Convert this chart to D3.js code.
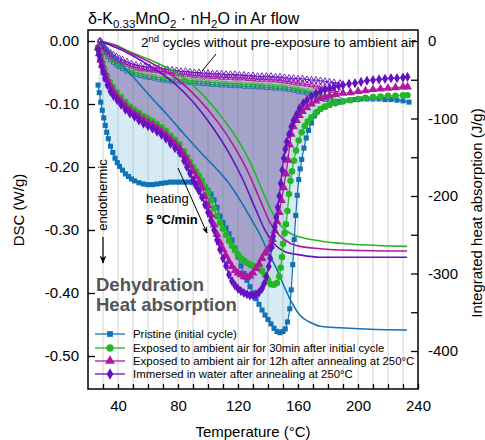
<!DOCTYPE html>
<html><head><meta charset="utf-8">
<script src="https://cdn.jsdelivr.net/npm/d3@7"></script>
<style>
body{margin:0;background:#fff}
svg{display:block}
text{font-family:"Liberation Sans",Arial,sans-serif;fill:#000}
</style>
</head><body>
<svg id="c" width="485" height="440"></svg>
<script>
// ---------------- DATA ----------------
const seriesNames = [
  "Pristine (initial cycle)",
  "Exposed to ambient air for 30min after initial cycle",
  "Exposed to ambient air for 12h after annealing at 250°C",
  "Immersed in water after annealing at 250°C"
];
const xTickLabels = [40, 80, 120, 160, 200, 240];
const yLeftTicks = [0, -0.1, -0.2, -0.3, -0.4, -0.5];
const yRightTicks = [0, -100, -200, -300, -400];

// first cycle DSC (W/g) vs temperature (°C)
const pristineT = [26.7,27.5,28.5,29.5,30.5,31.5,32.5,33.5,35,36.5,38,39.5,41,43,45,47,49,51,54,57,60,63,66,69,72,75,78,81,84,87,90,93,96,98,100,102,104,106,108,110,112,114,116,118,120,122,124,126,128,130,132,134,136,138,140,142,144,146,148,150,151.5,153,154.5,155.5,156.5,157.5,158.5,159.5,160.5,161.5,162.5,164,165.5,167,169,171,173,175,178,181,184,187,190,194,198,202,206,210,214,218,222,226,230,234];
const pristineDSC = [-0.070,-0.082,-0.097,-0.110,-0.122,-0.134,-0.145,-0.155,-0.167,-0.177,-0.186,-0.193,-0.199,-0.205,-0.211,-0.215,-0.219,-0.222,-0.225,-0.227,-0.228,-0.228,-0.227,-0.226,-0.225,-0.224,-0.224,-0.224,-0.224,-0.224,-0.225,-0.226,-0.229,-0.233,-0.237,-0.243,-0.252,-0.264,-0.278,-0.288,-0.297,-0.306,-0.316,-0.329,-0.343,-0.357,-0.369,-0.380,-0.390,-0.400,-0.409,-0.418,-0.427,-0.435,-0.442,-0.449,-0.456,-0.461,-0.463,-0.461,-0.457,-0.446,-0.425,-0.395,-0.355,-0.315,-0.277,-0.245,-0.220,-0.203,-0.188,-0.170,-0.154,-0.142,-0.130,-0.119,-0.112,-0.108,-0.105,-0.102,-0.099,-0.097,-0.095,-0.094,-0.093,-0.092,-0.092,-0.092,-0.092,-0.093,-0.093,-0.094,-0.095,-0.097];

const air30T = [26.7,27.5,28.5,29.5,31,32.5,34.5,36.5,39,42,45,48,51,54,57,60,63,66,69,72,75,78,81,84,86,88,90,92,94,96,98,100,102,104,106,108,110,112,114,116,118,120,122,124,126,128,130,132,134,136,138,140,142,144,146,147.5,148.5,149.3,150,151,152,153,154,155,156,157.3,158.7,160.5,162.5,164.5,166.5,169,172,175,178,181,185,190,195,200,205,210,215,220,225,230,233];
const air30DSC = [-0.010,-0.017,-0.026,-0.034,-0.045,-0.055,-0.065,-0.073,-0.081,-0.089,-0.097,-0.104,-0.109,-0.114,-0.119,-0.123,-0.127,-0.132,-0.137,-0.143,-0.150,-0.157,-0.164,-0.175,-0.184,-0.192,-0.200,-0.207,-0.214,-0.222,-0.231,-0.240,-0.253,-0.266,-0.278,-0.289,-0.298,-0.308,-0.317,-0.325,-0.332,-0.339,-0.345,-0.349,-0.352,-0.355,-0.357,-0.359,-0.361,-0.365,-0.372,-0.380,-0.386,-0.387,-0.384,-0.374,-0.360,-0.343,-0.322,-0.305,-0.291,-0.270,-0.243,-0.222,-0.207,-0.190,-0.174,-0.158,-0.145,-0.135,-0.128,-0.121,-0.114,-0.108,-0.104,-0.101,-0.099,-0.096,-0.094,-0.092,-0.090,-0.089,-0.088,-0.087,-0.087,-0.086,-0.086];

const air12hT = [26.7,27.5,28.5,29.5,31,32.5,34.5,36.5,39,42,45,48,51,54,57,60,63,66,69,72,75,78,81,84,86,88,90,92,94,96,98,100,102,104,106,108,110,112,114,116,118,120,122,124,126,128,130,132,134,136,138,140,141.5,143,144.5,146,147.5,149,150.5,152,153.3,154.5,155.5,157,159,161,163,166,169,172,175,178,181,185,190,195,200,205,210,215,220,225,230,233];
const air12hDSC = [-0.011,-0.020,-0.030,-0.038,-0.050,-0.060,-0.070,-0.078,-0.087,-0.095,-0.103,-0.110,-0.115,-0.120,-0.125,-0.129,-0.133,-0.138,-0.143,-0.149,-0.156,-0.163,-0.170,-0.181,-0.189,-0.197,-0.206,-0.215,-0.223,-0.233,-0.247,-0.261,-0.276,-0.292,-0.307,-0.320,-0.331,-0.341,-0.350,-0.358,-0.364,-0.368,-0.371,-0.374,-0.375,-0.373,-0.368,-0.361,-0.354,-0.345,-0.337,-0.331,-0.326,-0.315,-0.301,-0.287,-0.272,-0.253,-0.233,-0.211,-0.189,-0.165,-0.148,-0.136,-0.126,-0.118,-0.112,-0.106,-0.100,-0.095,-0.091,-0.089,-0.087,-0.085,-0.083,-0.082,-0.080,-0.079,-0.077,-0.076,-0.075,-0.074,-0.073,-0.073];

const waterT = [26.7,27.3,28,29,30,31.3,33,35,37,39.5,42,45,48,51,54,57,60,63,66,69,72,75,78,81,84,86,88,90,92,94,96,98,100,102,104,106,108,110,112,114,116,118,120,122,124,126,128,130,132,134,136,137.5,139,140.5,141.5,142.5,143.5,144.5,145.5,146.5,147.5,148.5,149.5,150.5,151.5,152.5,154,155.5,157,159,161,163.5,166,169,172,175,178,181,184,187,190,194,198,202,206,210,214,218,222,226,230,233];
const waterDSC = [-0.014,-0.022,-0.030,-0.040,-0.049,-0.059,-0.070,-0.080,-0.087,-0.094,-0.101,-0.109,-0.115,-0.120,-0.126,-0.131,-0.135,-0.139,-0.144,-0.149,-0.155,-0.163,-0.170,-0.177,-0.190,-0.200,-0.210,-0.221,-0.230,-0.238,-0.248,-0.260,-0.272,-0.285,-0.300,-0.316,-0.331,-0.345,-0.357,-0.371,-0.381,-0.388,-0.393,-0.397,-0.400,-0.402,-0.404,-0.404,-0.402,-0.399,-0.393,-0.385,-0.374,-0.358,-0.345,-0.327,-0.310,-0.295,-0.280,-0.264,-0.246,-0.226,-0.205,-0.186,-0.172,-0.160,-0.148,-0.136,-0.126,-0.117,-0.107,-0.099,-0.094,-0.088,-0.083,-0.080,-0.077,-0.075,-0.073,-0.071,-0.070,-0.068,-0.067,-0.065,-0.063,-0.062,-0.061,-0.060,-0.059,-0.059,-0.058,-0.057];

// second cycles (no pre-exposure) DSC (W/g), shared temperatures
const cycle2T = [28,29,30,31.5,33,35,37,39,41,43,46,49,52,55,58,61,64,67,70,73,76,79,82,85,88,91,94,97,100,103,106,109,112,115,118,121,124,127,130,133,136,139,142,145,148,151,154,157,160,163,166,169,172,175,178,181,184,188];
const pristine2DSC = [0,-0.008,-0.013,-0.019,-0.025,-0.030,-0.034,-0.038,-0.041,-0.044,-0.048,-0.051,-0.053,-0.055,-0.057,-0.058,-0.059,-0.061,-0.062,-0.063,-0.064,-0.064,-0.065,-0.065,-0.066,-0.067,-0.067,-0.068,-0.068,-0.069,-0.069,-0.070,-0.070,-0.071,-0.071,-0.071,-0.072,-0.072,-0.072,-0.073,-0.073,-0.074,-0.074,-0.075,-0.075,-0.076,-0.077,-0.078,-0.080,-0.081,-0.083,-0.085,-0.088,-0.091,-0.093,-0.095,-0.096,-0.097];
const air30_2DSC = [0,-0.007,-0.012,-0.017,-0.022,-0.027,-0.031,-0.035,-0.038,-0.040,-0.044,-0.047,-0.050,-0.052,-0.054,-0.055,-0.056,-0.058,-0.059,-0.060,-0.061,-0.061,-0.062,-0.062,-0.063,-0.063,-0.064,-0.064,-0.065,-0.066,-0.066,-0.067,-0.067,-0.068,-0.068,-0.068,-0.069,-0.069,-0.069,-0.070,-0.070,-0.071,-0.071,-0.072,-0.072,-0.073,-0.074,-0.075,-0.076,-0.078,-0.079,-0.081,-0.083,-0.086,-0.088,-0.090,-0.092,-0.093];
const air12h_2DSC = [0,-0.006,-0.010,-0.014,-0.018,-0.022,-0.026,-0.029,-0.032,-0.034,-0.037,-0.040,-0.042,-0.044,-0.045,-0.046,-0.047,-0.048,-0.049,-0.050,-0.051,-0.052,-0.053,-0.053,-0.054,-0.055,-0.055,-0.056,-0.056,-0.057,-0.057,-0.058,-0.058,-0.058,-0.059,-0.059,-0.059,-0.060,-0.060,-0.061,-0.061,-0.061,-0.062,-0.062,-0.063,-0.064,-0.065,-0.066,-0.067,-0.068,-0.069,-0.070,-0.072,-0.073,-0.075,-0.077,-0.079,-0.081];
const water2DSC = [0,-0.004,-0.007,-0.011,-0.015,-0.019,-0.022,-0.025,-0.028,-0.030,-0.033,-0.036,-0.038,-0.040,-0.041,-0.042,-0.043,-0.043,-0.044,-0.045,-0.046,-0.047,-0.048,-0.048,-0.049,-0.050,-0.050,-0.051,-0.051,-0.052,-0.052,-0.052,-0.053,-0.053,-0.053,-0.054,-0.054,-0.055,-0.055,-0.056,-0.056,-0.056,-0.056,-0.057,-0.057,-0.058,-0.059,-0.059,-0.060,-0.060,-0.061,-0.062,-0.062,-0.063,-0.064,-0.065,-0.066,-0.067];

// integrated heat absorption (J/g)
const pristineIntT = [28,34.7,41.3,51.3,61.3,71.3,81.3,94.7,104.7,113.3,121.3,128,134.7,140,146,151.3,156,161.3,168,174.7,188,208,232.7];
const pristineInt = [0,-14,-28,-49,-71,-92,-114,-143,-163,-182,-205,-227,-250,-272,-295,-319,-338,-354,-363,-368,-370,-372,-373];
const air30IntT = [28,38,48,64.7,82,95.3,108.7,120,128,136.7,143.3,148,154.7,161.3,174.7,194.7,232.7];
const air30Int = [0,-5,-14,-27,-45,-67,-97,-128,-156,-195,-223,-237,-248,-253,-258,-262,-265];
const air12hIntT = [28,38,48,64.7,80,93.3,106.7,118,126.7,134.7,141.3,146.7,154.7,161.3,174.7,194.7,232.7];
const air12hInt = [0,-6,-15,-31,-50,-74,-105,-138,-169,-205,-234,-249,-261,-265,-268,-270,-271];
const waterIntT = [28,38,48,62.7,77.3,90.7,103.3,114.7,123.3,131.3,138,144.7,151.3,161.3,174.7,194.7,232.7];
const waterInt = [0,-8,-17,-34,-54,-80,-112,-147,-179,-215,-244,-263,-272,-276,-279,-279,-279];

// ---------------- CHART ----------------
const colors = ["#1272b6", "#26b526", "#b0179f", "#6511c0"];
const symbols = [d3.symbolSquare, d3.symbolCircle, d3.symbolTriangle, d3.symbolDiamond];
const symSize = [26, 34, 34, 30];
const fills = ["rgba(120,190,225,0.30)", "rgba(50,150,50,0.12)", "rgba(160,30,150,0.14)", "rgba(90,60,170,0.24)"];

const zip = (a, b) => a.map((t, i) => [t, b[i]]);
const first = [zip(pristineT, pristineDSC), zip(air30T, air30DSC), zip(air12hT, air12hDSC), zip(waterT, waterDSC)];
const second = [pristine2DSC, air30_2DSC, air12h_2DSC, water2DSC].map(v => zip(cycle2T, v));
const integ = [zip(pristineIntT, pristineInt), zip(air30IntT, air30Int), zip(air12hIntT, air12hInt), zip(waterIntT, waterInt)];

const X0 = 88, X1 = 418, Y0 = 30, Y1 = 389;
const x = d3.scaleLinear().domain([20, 240]).range([X0, X1]);
const yL = d3.scaleLinear().domain([0, -0.5]).range([41, 356]);
const yR = d3.scaleLinear().domain([0, -400]).range([41, 351]);

const svg = d3.select("#c");
svg.append("defs").append("clipPath").attr("id", "clip")
  .append("rect").attr("x", X0).attr("y", Y0).attr("width", X1 - X0).attr("height", Y1 - Y0);
const am = svg.select("defs").append("marker").attr("id", "arr")
  .attr("viewBox", "0 0 10 10").attr("refX", 9).attr("refY", 5)
  .attr("markerWidth", 7).attr("markerHeight", 7).attr("orient", "auto-start-reverse");
am.append("path").attr("d", "M0,1 L10,5 L0,9 L3,5 Z").attr("fill", "#000");

// grid
const gridVals = d3.range(30, 240, 10);
svg.append("g").selectAll("line").data(gridVals).join("line")
  .attr("x1", d => x(d)).attr("x2", d => x(d)).attr("y1", Y0).attr("y2", Y1)
  .attr("stroke", "#dddddd").attr("stroke-width", 1.3);

const plot = svg.append("g").attr("clip-path", "url(#clip)");
const lineL = d3.line().x(d => x(d[0])).y(d => yL(d[1]));
const lineLs = d3.line().x(d => x(d[0])).y(d => yL(d[1])).curve(d3.curveMonotoneX);
const lineR = d3.line().x(d => x(d[0])).y(d => yR(d[1])).curve(d3.curveMonotoneX);

// fills between 1st and 2nd cycles
first.forEach((f, i) => {
  const tEnd = cycle2T[cycle2T.length - 1];
  const poly = f.filter(d => d[0] <= tEnd).concat(second[i].slice().reverse());
  plot.append("path").attr("d", lineL(poly) + "Z").attr("fill", fills[i]).attr("stroke", "none");
});

// 2nd cycle curves
second.forEach((s, i) => {
  plot.append("path").attr("d", lineLs(s)).attr("fill", "none").attr("stroke", colors[i]).attr("stroke-width", 1);
  plot.append("g").selectAll("path").data(s).join("path")
    .attr("transform", d => `translate(${x(d[0])},${yL(d[1])})`)
    .attr("d", d3.symbol().type(symbols[i]).size(15))
    .attr("fill", "none").attr("stroke", colors[i]).attr("stroke-width", 0.9);
});

// integrated curves (right axis)
integ.forEach((s, i) => {
  plot.append("path").attr("d", lineR(s)).attr("fill", "none").attr("stroke", colors[i]).attr("stroke-width", 1.6);
});

// first cycle curves with markers
first.forEach((f, i) => {
  plot.append("path").attr("d", lineLs(f)).attr("fill", "none").attr("stroke", colors[i]).attr("stroke-width", 1.2);
  plot.append("g").selectAll("path").data(f).join("path")
    .attr("transform", d => `translate(${x(d[0])},${yL(d[1])})`)
    .attr("d", d3.symbol().type(symbols[i]).size(symSize[i]))
    .attr("fill", colors[i]);
});

// frame
svg.append("rect").attr("x", X0).attr("y", Y0).attr("width", X1 - X0).attr("height", Y1 - Y0)
  .attr("fill", "none").attr("stroke", "#000").attr("stroke-width", 1.5);

// axes
const fontSize = "15px";
const axL = svg.append("g").attr("transform", `translate(${X0},0)`)
  .call(d3.axisLeft(yL).tickValues(yLeftTicks).tickSize(-7).tickPadding(9).tickFormat(d => d.toFixed(2)));
const axR = svg.append("g").attr("transform", `translate(${X1},0)`)
  .call(d3.axisRight(yR).tickValues(d3.range(0, -401, -50)).tickSize(-7).tickPadding(10)
    .tickFormat(d => yRightTicks.includes(d) ? String(d) : ""));
const axB = svg.append("g").attr("transform", `translate(0,${Y1})`)
  .call(d3.axisBottom(x).tickValues(d3.range(30, 241, 10)).tickSize(-5).tickPadding(11)
    .tickFormat(d => xTickLabels.includes(d) ? String(d) : ""));
[axL, axR, axB].forEach(a => {
  a.select(".domain").remove();
  a.selectAll(".tick line").attr("stroke", "#000").attr("stroke-width", 1.3);
  a.selectAll("text").attr("font-size", fontSize).attr("font-family", "Liberation Sans, Arial, sans-serif").attr("fill", "#000");
});

// axis titles
svg.append("text").attr("x", 253).attr("y", 437).attr("text-anchor", "middle").attr("font-size", "15px").text("Temperature (°C)");
svg.append("text").attr("transform", "translate(24,210) rotate(-90)").attr("text-anchor", "middle").attr("font-size", "15px").text("DSC (W/g)");
svg.append("text").attr("transform", "translate(482,213) rotate(-90)").attr("text-anchor", "middle").attr("font-size", "15px").text("Integrated heat absorption  (J/g)");

// title
const title = svg.append("text").attr("x", 88).attr("y", 24).attr("font-size", "16px");
title.append("tspan").text("δ-K");
title.append("tspan").attr("font-size", "11.5px").attr("dy", 4).text("0.33");
title.append("tspan").attr("dy", -4).text("MnO");
title.append("tspan").attr("font-size", "11.5px").attr("dy", 4).text("2");
title.append("tspan").attr("dy", -4).text(" · nH");
title.append("tspan").attr("font-size", "11.5px").attr("dy", 4).text("2");
title.append("tspan").attr("dy", -4).text("O in Ar flow");

// annotation: 2nd cycles
const ann = svg.append("text").attr("x", 141).attr("y", 47).attr("font-size", "13.5px");
ann.append("tspan").text("2");
ann.append("tspan").attr("font-size", "9.5px").attr("dy", -5).text("nd");
ann.append("tspan").attr("dy", 5).text(" cycles without pre-exposure to ambient air");
svg.append("line").attr("x1", 216).attr("y1", 54).attr("x2", 202).attr("y2", 71).attr("stroke", "#000").attr("stroke-width", 1);

// endothermic
svg.append("text").attr("transform", "translate(107,195) rotate(-90)").attr("text-anchor", "middle").attr("font-size", "13px").text("endothermic");
svg.append("line").attr("x1", 103).attr("y1", 237).attr("x2", 103).attr("y2", 263)
  .attr("stroke", "#000").attr("stroke-width", 1.2).attr("marker-end", "url(#arr)");

// heating
svg.append("text").attr("x", 146).attr("y", 203).attr("font-size", "13px").text("heating");
svg.append("text").attr("x", 146).attr("y", 224).attr("font-size", "13px").attr("font-weight", "bold").text("5 ºC/min");
svg.append("line").attr("x1", 178).attr("y1", 168).attr("x2", 207).attr("y2", 233)
  .attr("stroke", "#000").attr("stroke-width", 1).attr("marker-end", "url(#arr)");

// Dehydration
svg.append("text").attr("x", 96).attr("y", 291).attr("font-size", "18.5px").attr("font-weight", "bold").style("fill", "#555").text("Dehydration");
svg.append("text").attr("x", 96).attr("y", 311).attr("font-size", "18.5px").attr("font-weight", "bold").style("fill", "#555").text("Heat absorption");

// legend
const legY = [334, 348, 361, 374];
seriesNames.forEach((name, i) => {
  const g = svg.append("g");
  g.append("line").attr("x1", 95).attr("x2", 125).attr("y1", legY[i]).attr("y2", legY[i]).attr("stroke", colors[i]).attr("stroke-width", 1.3);
  g.append("path").attr("transform", `translate(110,${legY[i]})`).attr("d", d3.symbol().type(symbols[i]).size(symSize[i] + 8)).attr("fill", colors[i]);
  g.append("text").attr("x", 133).attr("y", legY[i]).attr("dy", "0.36em").attr("font-size", "11.4px").text(name);
});
</script>
</body></html>
